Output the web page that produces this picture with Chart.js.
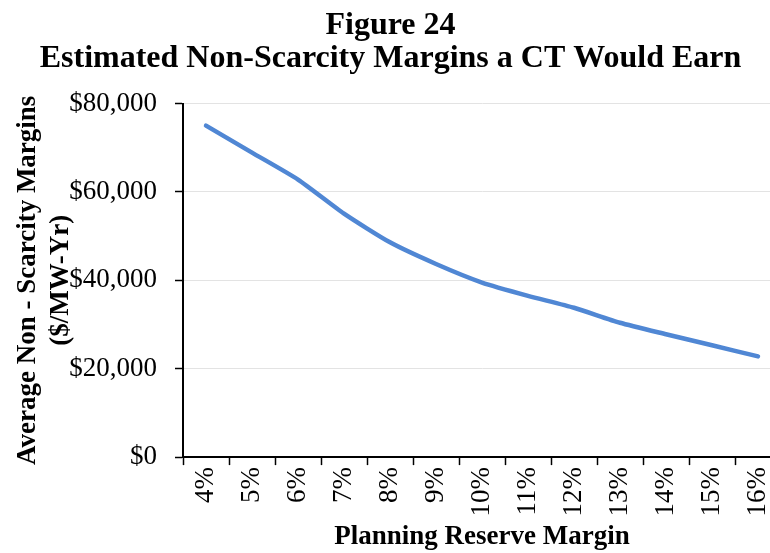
<!DOCTYPE html>
<html>
<head>
<meta charset="utf-8">
<script src="https://cdn.jsdelivr.net/npm/chart.js@4"></script>
<style>
  html, body { margin: 0; padding: 0; background: #fff; overflow: hidden; }
  #wrap { width: 785px; height: 553px; }
</style>
</head>
<body>
<div id="wrap"><canvas id="myChart"></canvas></div>
<script>
// data
const reserveMargins = ['4%', '5%', '6%', '7%', '8%', '9%', '10%', '11%', '12%', '13%', '14%', '15%', '16%']
const nonScarcityMargins = [75000, 68900, 62800, 55100, 48600, 43700, 39500, 36500, 33800, 30400, 27800, 25300, 22800]
const yTicks = [0, 20000, 40000, 60000, 80000]

const serif = '"Liberation Serif", "Times New Roman", serif'
Chart.defaults.font.family = serif
Chart.defaults.color = '#000'

/////////////////////////////////////////////////////////////
//Chart
/////////////////////////////////////////////////////////////
const dataChart = {
    labels: reserveMargins,
    datasets: [{
        label: 'Non-Scarcity Margins',
        data: nonScarcityMargins,
        borderColor: '#5087d4',
        backgroundColor: '#5087d4',
        borderWidth: 4.5,
        pointRadius: 0,
        tension: 0.2,
        fill: false,
        borderCapStyle: 'round',
        borderJoinStyle: 'round',
    }]
}

const config = {
    type: 'line',
    data: dataChart,
    options: {
        responsive: true,
        maintainAspectRatio: false,
        animation: false,
        layout: {
            padding: { left: 0, right: 4, top: 0, bottom: 0 }
        },
        plugins: {
            legend: { display: false },
            tooltip: { enabled: false },
            title: {
                display: true,
                text: ['Figure 24', 'Estimated Non-Scarcity Margins a CT Would Earn'],
                font: { size: 32, weight: 'bold', lineHeight: 1.04 },
                color: '#000',
                padding: { top: 9, bottom: 28 },
            },
        },
        scales: {
            x: {
                offset: true,
                border: { display: true, color: '#000', width: 2 },
                grid: {
                    display: true,
                    drawOnChartArea: false,
                    offset: true,
                    tickLength: 8,
                    tickColor: '#000',
                    tickWidth: 1.5,
                },
                // the plot runs off the right edge in the figure, so no room kept for the last label
                afterFit: (scale) => {
                    scale.paddingRight = 0
                },
                ticks: {
                    minRotation: 90,
                    maxRotation: 90,
                    padding: 2,
                    font: { size: 27 },
                    color: '#000',
                },
                title: {
                    display: true,
                    text: 'Planning Reserve Margin',
                    font: { size: 27, weight: 'bold', lineHeight: 1.2 },
                    color: '#000',
                    padding: { top: 2, bottom: 0 },
                }
            },
            y: {
                min: 0,
                max: 80000,
                border: { display: true, color: '#000', width: 2 },
                grid: {
                    color: '#e3e3e3',
                    lineWidth: 1,
                    tickLength: 8,
                    tickColor: '#000',
                    tickWidth: 1.5,
                },
                afterBuildTicks: (scale) => {
                    scale.ticks = yTicks.map(v => ({ value: v }))
                },
                // fixed axis width so the y axis sits where it does in the figure
                afterFit: (scale) => {
                    scale.width = 183
                },
                ticks: {
                    padding: 18,
                    font: { size: 27 },
                    color: '#000',
                    callback: (value) => '$' + Number(value).toLocaleString('en-US'),
                },
                title: {
                    display: true,
                    text: ['Average Non - Scarcity Margins', '($/MW-Yr)'],
                    font: { size: 27, weight: 'bold', lineHeight: 1.2 },
                    color: '#000',
                    padding: { top: 12, bottom: 0 },
                }
            }
        }
    }
}

const myChart = new Chart(document.getElementById('myChart'), config)
</script>
</body>
</html>
